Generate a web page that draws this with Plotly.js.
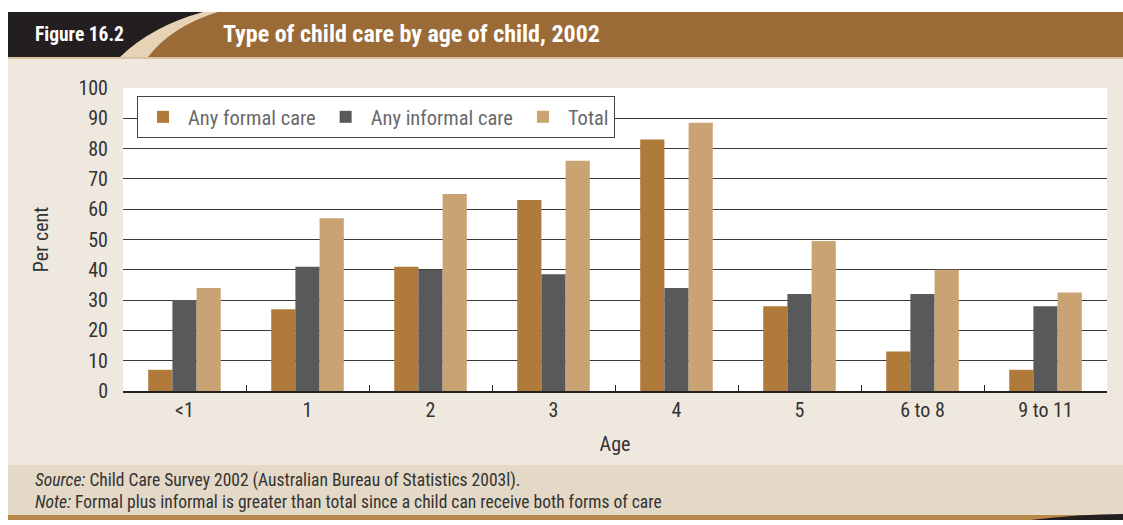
<!DOCTYPE html>
<html>
<head>
<meta charset="utf-8">
<script src="https://cdn.plot.ly/plotly-3.0.1.min.js"></script>
<style>
html,body{margin:0;padding:0;background:#fff;}
#chart{width:1123px;height:525px;}
</style>
</head>
<body>
<div id="chart"></div>
<script>
const categories = ["<1", "1", "2", "3", "4", "5", "6 to 8", "9 to 11"];
const formalCare = [7, 27, 41, 63, 83, 28, 13, 7];
const informalCare = [30, 41, 40, 38.5, 34, 32, 32, 28];
const totalCare = [34, 57, 65, 76, 88.5, 49.5, 40, 32.5];
const seriesNames = ["Any formal care", "Any informal care", "Total"];

const W = 1123, H = 525;
const px = x => x / W;
const py = y => 1 - y / H;
const FONT = "'Liberation Sans Narrow', 'Arial Narrow', 'Roboto Condensed', 'Liberation Sans', sans-serif";

const colors = ["#B07B3A", "#58595B", "#C9A374"];
const traces = [formalCare, informalCare, totalCare].map((vals, i) => ({
  type: "bar",
  x: categories,
  y: vals,
  name: seriesNames[i],
  marker: {color: colors[i], line: {width: 0}},
  hoverinfo: "x+y+name"
}));

const shapes = [
  // page background below header
  {type: "rect", xref: "paper", yref: "paper", x0: px(8), x1: 1, y0: py(465), y1: py(57), fillcolor: "#EFE8DF", line: {width: 0}, layer: "below"},
  // white plot area
  {type: "rect", xref: "paper", yref: "paper", x0: px(123), x1: px(1107), y0: py(391), y1: py(88), fillcolor: "#ffffff", line: {width: 0}, layer: "below"},
  // footer band
  {type: "rect", xref: "paper", yref: "paper", x0: px(8), x1: 1, y0: py(515), y1: py(465), fillcolor: "#E4D8C6", line: {width: 0}, layer: "below"},
  // bottom line
  {type: "rect", xref: "paper", yref: "paper", x0: px(8), x1: 1, y0: py(520), y1: py(515), fillcolor: "#B8874A", line: {width: 0}, layer: "below"},
  // header brown
  {type: "rect", xref: "paper", yref: "paper", x0: px(8), x1: 1, y0: py(57), y1: py(12), fillcolor: "#9A6A37", line: {width: 0}, layer: "below"},
  // header thin tan line
  {type: "rect", xref: "paper", yref: "paper", x0: px(8), x1: 1, y0: py(59), y1: py(57), fillcolor: "#D9C3A3", line: {width: 0}, layer: "below"},
  // tan swoosh
  {type: "path", xref: "paper", yref: "paper", layer: "below",
   path: `M ${px(8)},${py(12)} L ${px(218)},${py(12)} Q ${px(172)},${py(26)} ${px(148)},${py(57)} L ${px(8)},${py(57)} Z`,
   fillcolor: "#E6D3B5", line: {width: 0}},
  // black swoosh
  {type: "path", xref: "paper", yref: "paper", layer: "below",
   path: `M ${px(8)},${py(12)} L ${px(203)},${py(12)} Q ${px(152)},${py(26)} ${px(120)},${py(57)} L ${px(8)},${py(57)} Z`,
   fillcolor: "#231F20", line: {width: 0}},
  // bottom right swoosh
  {type: "path", xref: "paper", yref: "paper", layer: "below",
   path: `M ${px(1030)},${py(520)} Q ${px(1080)},${py(514)} ${px(1123)},${py(514)} L ${px(1123)},${py(520)} Z`,
   fillcolor: "#231F20", line: {width: 0}}
];

const annotations = [
  {xref: "paper", yref: "paper", x: px(33), y: py(34), xanchor: "left", yanchor: "middle", showarrow: false,
   text: "<b>Figure 16.2</b>", font: {family: FONT, size: 19.5, color: "#ffffff"}},
  {xref: "paper", yref: "paper", x: px(221), y: py(34), xanchor: "left", yanchor: "middle", showarrow: false,
   text: "<b>Type of child care by age of child, 2002</b>", font: {family: FONT, size: 24, color: "#ffffff"}},
  {xref: "paper", yref: "paper", x: px(33), y: py(480), xanchor: "left", yanchor: "middle", showarrow: false,
   text: "<i>Source:</i> Child Care Survey 2002 (Australian Bureau of Statistics 2003l).", font: {family: FONT, size: 17.5, color: "#333333"}},
  {xref: "paper", yref: "paper", x: px(33), y: py(502), xanchor: "left", yanchor: "middle", showarrow: false,
   text: "<i>Note:</i> Formal plus informal is greater than total since a child can receive both forms of care", font: {family: FONT, size: 17.5, color: "#333333"}}
];

const layout = {
  width: W, height: H,
  margin: {l: 0, r: 0, t: 0, b: 0},
  paper_bgcolor: "#ffffff",
  plot_bgcolor: "#ffffff",
  font: {family: FONT, color: "#333333", size: 18},
  barmode: "group",
  bargap: 0.41,
  bargroupgap: 0,
  showlegend: true,
  legend: {
    orientation: "h", x: px(137), y: py(96), xanchor: "left", yanchor: "top",
    bgcolor: "#ffffff", bordercolor: "#444444", borderwidth: 1,
    font: {family: FONT, size: 20.5, color: "#6a6a6a"},
    itemwidth: 40, traceorder: "normal"
  },
  xaxis: {
    domain: [px(123), px(1107)],
    type: "category",
    showgrid: false,
    showline: true, linecolor: "#222222", linewidth: 1.5,
    ticks: "inside", ticklen: 6, tickcolor: "#222222", tickson: "boundaries",
    tickfont: {family: FONT, size: 20, color: "#333333"},
    title: {text: "Age", font: {family: FONT, size: 20, color: "#333333"}, standoff: 16},
    anchor: "y",
    fixedrange: true
  },
  yaxis: {
    domain: [py(391), py(88)],
    range: [0, 100],
    dtick: 10,
    showgrid: true, gridcolor: "#3a3a3a", gridwidth: 1,
    zeroline: false,
    showline: false,
    ticks: "",
    ticklabelstandoff: 14,
    tickfont: {family: FONT, size: 20, color: "#333333"},
    title: {text: "Per cent", font: {family: FONT, size: 20, color: "#333333"}, standoff: 24},
    fixedrange: true
  },
  shapes: shapes,
  annotations: annotations
};

Plotly.newPlot("chart", traces, layout, {displayModeBar: false, staticPlot: true});
</script>
</body>
</html>
